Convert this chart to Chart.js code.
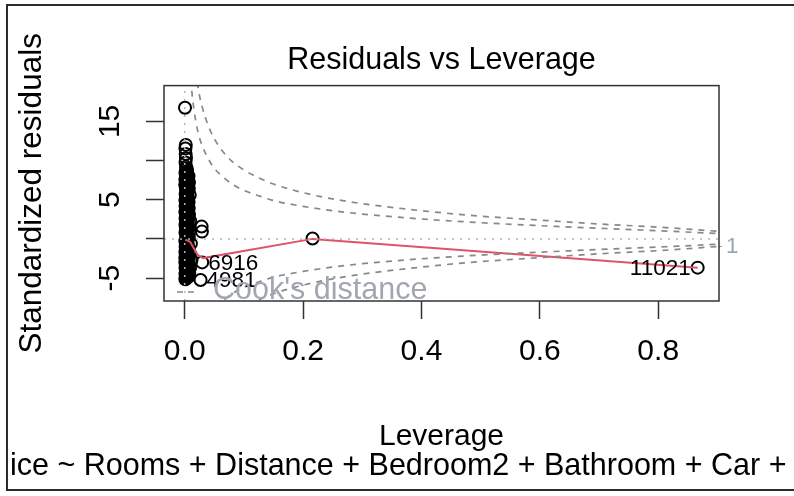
<!DOCTYPE html>
<html>
<head>
<meta charset="utf-8">
<title>Residuals vs Leverage</title>
<script src="https://cdn.jsdelivr.net/npm/chart.js@4.4.1/dist/chart.umd.min.js"></script>
<style>
  html, body { margin: 0; padding: 0; background: #fff; }
  #wrap { width: 794px; height: 496px; }
</style>
</head>
<body>
<div id="wrap"><canvas id="residChart" width="794" height="496"></canvas></div>
<script>
// values
const xTicks = [0, 0.2, 0.4, 0.6, 0.8];
const xTickLabels = ['0.0', '0.2', '0.4', '0.6', '0.8'];
const yTicks = [-5, 0, 5, 10, 15];
const yTickLabels = ['-5', '', '5', '', '15'];

// observations: leverage / standardized residual
const leverage = [
    0.0005, 0.0018, 0.0012, 0.0016, 0.0021, 0.0014,
    0.0022, 0.0026, 0.0021, 0.0029, 0.0024, 0.0031, 0.0023, 0.0027, 0.0020, 0.0030,
    0.0025, 0.0022, 0.0028, 0.0024, 0.0031, 0.0021, 0.0026, 0.0029, 0.0023, 0.0027,
    0.0020, 0.0030, 0.0025, 0.0022, 0.0028, 0.0024, 0.0032, 0.0021, 0.0026, 0.0029,
    0.0023, 0.0027, 0.0020, 0.0030, 0.0025, 0.0022, 0.0028, 0.0024, 0.0031, 0.0021,
    0.0026, 0.0023,
    0.0047, 0.0042, 0.0053, 0.0045, 0.0050, 0.0041, 0.0056, 0.0046, 0.0043, 0.0052,
    0.0048, 0.0040, 0.0055, 0.0044, 0.0049, 0.0051, 0.0042, 0.0057, 0.0046, 0.0044,
    0.0053, 0.0047, 0.0041, 0.0055, 0.0048, 0.0043, 0.0054, 0.0046, 0.0050, 0.0042,
    0.0057, 0.0045, 0.0049, 0.0052, 0.0043, 0.0056, 0.0047, 0.0041,
    0.0035, 0.0038, 0.0034, 0.0037, 0.0033, 0.0036, 0.0039, 0.0035, 0.0034, 0.0038,
    0.0036, 0.0033, 0.0037, 0.0035, 0.0039, 0.0034, 0.0036, 0.0038, 0.0033, 0.0035,
    0.0037, 0.0034, 0.0039, 0.0036, 0.0035, 0.0038, 0.0033, 0.0037, 0.0034, 0.0036,
    0.0039, 0.0035, 0.0033, 0.0038, 0.0036, 0.0034, 0.0037, 0.0035, 0.0039, 0.0033,
    0.0013, 0.0011, 0.0015, 0.0012, 0.0010, 0.0014, 0.0013, 0.0011, 0.0015, 0.0012,
    0.0010, 0.0014, 0.0013,
    0.0064, 0.0070, 0.0066, 0.0073, 0.0061, 0.0069, 0.0065, 0.0071, 0.0062,
    0.0072, 0.0085, 0.0068, 0.0094, 0.0078, 0.0105, 0.0088, 0.0115, 0.0092, 0.0076,
    0.0063, 0.0012, 0.0010, 0.0014, 0.0008, 0.0011,
    0.0286, 0.0291, 0.0295, 0.0268, 0.216, 0.8667
];
const stdResid = [
    16.75, 12.0, 11.55, 10.85, 10.3, 9.75,
    9.2, 8.85, 8.5, 8.1, 7.85, 7.4, 7.15, 6.7, 6.45, 6.05,
    5.7, 5.35, 5.0, 4.65, 4.35, 3.95, 3.6, 3.3, 2.9, 2.55,
    2.2, 1.9, 1.5, 1.2, 0.85, 0.45, 0.15, -0.2, -0.55, -0.9,
    -1.25, -1.55, -1.95, -2.25, -2.6, -2.95, -3.3, -3.6, -4.0, -4.3,
    -4.7, -5.05,
    8.3, 7.95, 7.6, 7.3, 6.95, 6.6, 6.25, 5.9, 5.55, 5.2,
    4.85, 4.5, 4.15, 3.8, 3.45, 3.1, 2.75, 2.4, 2.05, 1.7,
    1.35, 1.05, 0.65, 0.3, -0.05, -0.4, -0.75, -1.1, -1.4, -1.75,
    -2.1, -2.45, -2.8, -3.1, -3.45, -3.8, -4.15, -4.5,
    8.95, 8.6, 8.25, 7.7, 7.3, 6.9, 6.55, 6.2, 5.85, 5.5,
    5.15, 4.8, 4.45, 4.1, 3.75, 3.4, 3.05, 2.7, 2.35, 2.0,
    1.65, 1.3, 0.95, 0.6, 0.25, -0.1, -0.45, -0.8, -1.15, -1.5,
    -1.85, -2.2, -2.5, -2.85, -3.2, -3.55, -3.9, -4.25, -4.6, -4.95,
    8.4, 7.55, 5.75, 4.9, 3.45, 2.6, 1.75, -0.3, -1.0, -1.7,
    -2.4, -3.75, -4.5,
    8.0, 6.4, 4.7, 3.1, 1.6, 0.2, -1.2, -2.4, -3.3,
    7.2, 5.6, 3.9, 2.3, 0.9, -0.6, -1.9, -2.7, -3.7, -4.4,
    -4.85, 0.8, -3.0, 4.2, 6.9, -5.15,
    1.57, 0.93, -3.0, -5.25, 0.05, -3.67
];

// red smoother
const smoothLev = [0.001, 0.009, 0.016, 0.022, 0.031, 0.216, 0.8667];
const smoothRes = [-0.1, -0.38, -1.3, -2.05, -2.45, 0.0, -3.7];

// Cook's distance contours (upper half; lower half mirrors it)
const cookLev = [0.004, 0.006, 0.008, 0.010, 0.013, 0.016, 0.020, 0.025, 0.030, 0.040,
    0.050, 0.065, 0.080, 0.100, 0.125, 0.150, 0.200, 0.250, 0.300, 0.400,
    0.500, 0.600, 0.700, 0.800, 0.903];
const cookHalf = [32.7, 26.7, 23.1, 20.6, 18.1, 16.3, 14.5, 12.9, 11.8, 10.2,
    9.0, 7.9, 7.0, 6.2, 5.5, 4.9, 4.15, 3.6, 3.17, 2.54,
    2.07, 1.69, 1.36, 1.04, 0.68];
const cookOne = [46.0, 37.8, 32.7, 29.2, 25.6, 23.0, 20.5, 18.3, 16.7, 14.4,
    12.8, 11.1, 9.9, 8.8, 7.8, 7.0, 5.9, 5.1, 4.5, 3.6,
    2.9, 2.4, 1.9, 1.5, 0.96];
const cookAxisTicks = [-0.98];
const cookAxisLabels = ['1'];

// labelled points
const idLabels = ['6916', '4981', '11021'];
const idLev = [0.0295, 0.0268, 0.8667];
const idRes = [-3.0, -5.25, -3.67];
const idSide = ['right', 'right', 'left'];

const X_MIN = -0.035, X_MAX = 0.9027;
const Y_MIN = -7.93, Y_MAX = 19.57;

const fontFamily = "'Liberation Sans', Arial, Helvetica, sans-serif";
Chart.defaults.font.family = fontFamily;

const pts = (xs, ys) => xs.map((v, i) => ({ x: v, y: ys[i] }));

const rDecor = {
    id: 'rDecor',
    afterDatasetsDraw(chart) {
        const { ctx, chartArea: a, scales: { x, y } } = chart;
        ctx.save();

        // id labels next to the outlying points
        ctx.font = '22.5px ' + fontFamily;
        ctx.fillStyle = '#000';
        ctx.textBaseline = 'middle';
        idLabels.forEach((txt, i) => {
            const px = x.getPixelForValue(idLev[i]);
            const py = y.getPixelForValue(idRes[i]) + 1;
            if (idSide[i] === 'right') {
                ctx.textAlign = 'left';
                ctx.fillText(txt, px + 6, py);
            } else {
                ctx.textAlign = 'right';
                ctx.fillText(txt, px - 7, py);
            }
        });

        // Cook's distance legend, bottom left
        ctx.strokeStyle = '#888';
        ctx.lineWidth = 1.7;
        ctx.setLineDash([6, 5]);
        ctx.beginPath();
        ctx.moveTo(a.left + 13, a.bottom - 9);
        ctx.lineTo(a.left + 35, a.bottom - 9);
        ctx.stroke();
        ctx.setLineDash([]);
        ctx.font = '30.5px ' + fontFamily;
        ctx.fillStyle = '#a0a7b0';
        ctx.textAlign = 'left';
        ctx.textBaseline = 'alphabetic';
        ctx.fillText("Cook's distance", a.left + 49, a.bottom - 2);
        ctx.restore();
    },
    afterDraw(chart) {
        const { ctx, chartArea: a } = chart;
        ctx.save();
        // plot box
        ctx.strokeStyle = '#333';
        ctx.lineWidth = 1.5;
        ctx.strokeRect(a.left, a.top, a.right - a.left, a.bottom - a.top);
        // outer frame of the screenshot
        ctx.strokeStyle = '#2a2a2a';
        ctx.lineWidth = 2;
        ctx.beginPath();
        ctx.moveTo(800, 5);
        ctx.lineTo(7, 5);
        ctx.lineTo(7, 490);
        ctx.lineTo(800, 490);
        ctx.stroke();
        // model formula (cut off at both sides)
        ctx.font = '30.5px ' + fontFamily;
        ctx.fillStyle = '#000';
        ctx.textAlign = 'left';
        ctx.textBaseline = 'middle';
        ctx.fillText('ice ~ Rooms + Distance + Bedroom2 + Bathroom + Car +', 10, 467);
        ctx.restore();
    }
};

const cookStyle = {
    type: 'line',
    borderColor: '#888',
    borderWidth: 1.7,
    borderDash: [6, 6],
    pointRadius: 0,
    cubicInterpolationMode: 'monotone',
    order: 1
};
const refStyle = {
    type: 'line',
    borderColor: '#b4b4b4',
    borderWidth: 1.5,
    borderDash: [2, 6],
    pointRadius: 0,
    order: 2
};

new Chart(document.getElementById('residChart').getContext('2d'), {
    type: 'scatter',
    data: {
        datasets: [
            {
                label: 'residuals',
                data: pts(leverage, stdResid),
                pointStyle: 'circle',
                pointRadius: 6,
                pointBorderWidth: 2,
                borderColor: '#000',
                backgroundColor: 'rgba(0,0,0,0)',
                order: 4
            },
            {
                type: 'line',
                label: 'smooth',
                data: pts(smoothLev, smoothRes),
                borderColor: '#DF536B',
                borderWidth: 2,
                pointRadius: 0,
                tension: 0,
                order: 3
            },
            Object.assign({ label: 'h0', data: [{ x: X_MIN, y: 0 }, { x: X_MAX, y: 0 }] }, refStyle),
            Object.assign({ label: 'v0', data: [{ x: 0, y: Y_MIN }, { x: 0, y: Y_MAX }] }, refStyle),
            Object.assign({ label: "Cook's distance", data: pts(cookLev, cookHalf) }, cookStyle),
            Object.assign({ label: 'cook1', data: pts(cookLev, cookOne) }, cookStyle),
            Object.assign({ label: 'cook05n', data: pts(cookLev, cookHalf.map(v => -v)) }, cookStyle),
            Object.assign({ label: 'cook1n', data: pts(cookLev, cookOne.map(v => -v)) }, cookStyle)
        ]
    },
    options: {
        responsive: false,
        animation: false,
        devicePixelRatio: 1,
        layout: { padding: { left: 0, right: 0, top: 0, bottom: 46 } },
        plugins: {
            legend: { display: false },
            tooltip: { enabled: false },
            title: {
                display: true,
                fullSize: false,
                text: 'Residuals vs Leverage',
                color: '#000',
                font: { size: 30.5, weight: 'normal', lineHeight: 1.2 },
                padding: { top: 42, bottom: 7 }
            }
        },
        scales: {
            x: {
                type: 'linear',
                min: X_MIN,
                max: X_MAX,
                afterBuildTicks: s => { s.ticks = xTicks.map(v => ({ value: v })); },
                afterFit: s => { s.height = 149; },
                ticks: {
                    autoSkip: false,
                    maxRotation: 0,
                    padding: 15,
                    color: '#000',
                    font: { size: 30 },
                    callback: (v, i) => xTickLabels[i]
                },
                grid: { drawOnChartArea: false, tickLength: 18, tickColor: '#333', tickWidth: 1.5 },
                border: { display: false },
                title: {
                    display: true,
                    text: 'Leverage',
                    color: '#000',
                    font: { size: 30, lineHeight: 1 },
                    padding: { top: 0, bottom: -2 }
                }
            },
            y: {
                type: 'linear',
                position: 'left',
                min: Y_MIN,
                max: Y_MAX,
                afterBuildTicks: s => { s.ticks = yTicks.map(v => ({ value: v })); },
                afterFit: s => { s.width = 164; },
                ticks: {
                    autoSkip: false,
                    minRotation: 90,
                    maxRotation: 90,
                    crossAlign: 'center',
                    padding: 19,
                    color: '#000',
                    font: { size: 30 },
                    callback: (v, i) => yTickLabels[i]
                },
                grid: { drawOnChartArea: false, tickLength: 18, tickColor: '#333', tickWidth: 1.5 },
                border: { display: false },
                title: {
                    display: true,
                    text: 'Standardized residuals',
                    color: '#000',
                    font: { size: 31.5, lineHeight: 1.2 },
                    padding: { top: 13.5, bottom: 0 }
                }
            },
            y2: {
                type: 'linear',
                position: 'right',
                min: Y_MIN,
                max: Y_MAX,
                afterBuildTicks: s => { s.ticks = cookAxisTicks.map(v => ({ value: v })); },
                afterFit: s => { s.width = 75; },
                ticks: {
                    autoSkip: false,
                    padding: 4,
                    color: '#9aa5b4',
                    font: { size: 22.5 },
                    callback: (v, i) => cookAxisLabels[i]
                },
                grid: { drawOnChartArea: false, tickLength: 3, tickColor: '#999', tickWidth: 1 },
                border: { display: false }
            }
        }
    },
    plugins: [rDecor]
});
</script>
</body>
</html>
